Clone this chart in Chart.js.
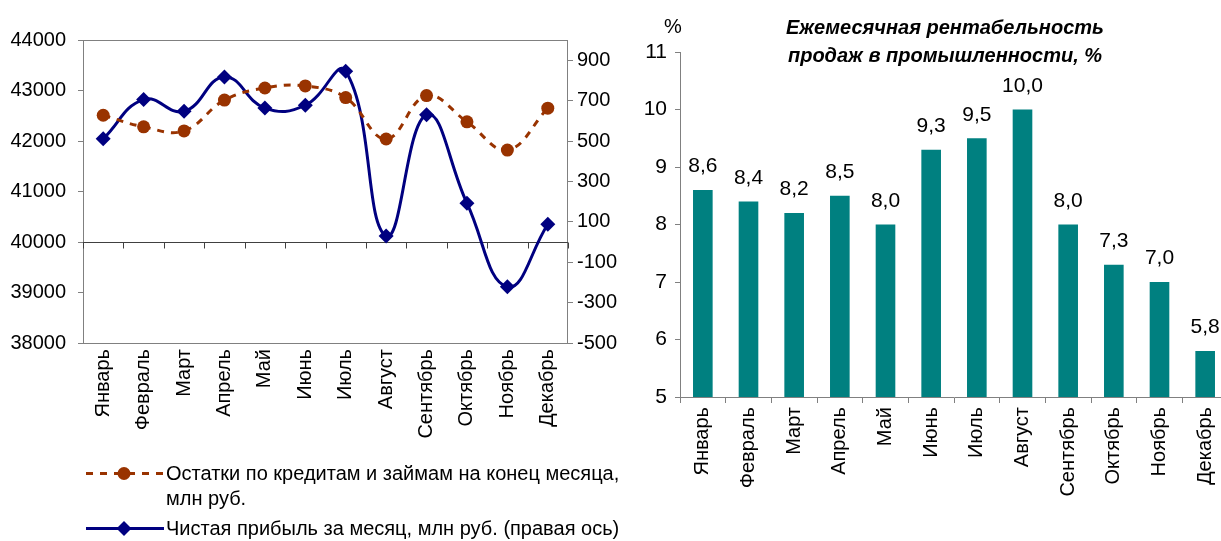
<!DOCTYPE html>
<html>
<head>
<meta charset="utf-8">
<script src="https://cdn.jsdelivr.net/npm/chart.js@4.4.0/dist/chart.umd.min.js"></script>
<style>
  body { margin: 0; width: 1221px; height: 541px; overflow: hidden; background: #fff; position: relative;
         font-family: "Liberation Sans", Arial, sans-serif; color: #000; }
  #leftChart { position: absolute; left: 0; top: 0; }
  #rightChart { position: absolute; left: 600px; top: 0; }
  .legend { position: absolute; left: 84px; font-size: 20px; line-height: 25px; }
  .legend svg { position: absolute; left: 0; top: 0; }
  .legend span { position: absolute; left: 82px; top: 0; white-space: nowrap; }
  #pct { position: absolute; left: 664px; top: 15px; font-size: 20px; }
  #title { position: absolute; left: 745px; width: 400px; top: 13px; text-align: center;
           font-size: 20px; font-weight: bold; font-style: italic; line-height: 28px; }
</style>
</head>
<body>
<canvas id="leftChart" width="640" height="448"></canvas>
<canvas id="rightChart" width="660" height="541"></canvas>

<div class="legend" style="top:461px">
  <svg width="82" height="25"><line x1="2" y1="12.5" x2="80" y2="12.5" stroke="#993300" stroke-width="3" stroke-dasharray="7 7"/><circle cx="40" cy="12.5" r="6.5" fill="#993300"/></svg>
  <span>Остатки по кредитам и займам на конец месяца,<br>млн руб.</span>
</div>
<div class="legend" style="top:516px">
  <svg width="82" height="25"><line x1="2" y1="12.5" x2="80" y2="12.5" stroke="#000080" stroke-width="3"/><path d="M40 5 L47.5 12.5 L40 20 L32.5 12.5 Z" fill="#000080"/></svg>
  <span>Чистая прибыль за месяц, млн руб. (правая ось)</span>
</div>

<div id="pct">%</div>
<div id="title">Ежемесячная рентабельность<br>продаж в промышленности, %</div>

<script>
// ---- данные ----
const months = ['Январь', 'Февраль', 'Март', 'Апрель', 'Май', 'Июнь',
                'Июль', 'Август', 'Сентябрь', 'Октябрь', 'Ноябрь', 'Декабрь'];
const loans = [42510, 42280, 42200, 42810, 43050, 43090, 42860, 42040, 42900, 42380, 41820, 42650];
const profit = [511, 705, 647, 817, 663, 677, 845, 30, 630, 192, -222, 88];
const loansTicks = [38000, 39000, 40000, 41000, 42000, 43000, 44000];
const profitTicks = [-500, -300, -100, 100, 300, 500, 700, 900];
const margin = [8.6, 8.4, 8.2, 8.5, 8.0, 9.3, 9.5, 10.0, 8.0, 7.3, 7.0, 5.8];
const marginTicks = [5, 6, 7, 8, 9, 10, 11];

const FONT = '"Liberation Sans", Arial, sans-serif';
const AXIS = '#808080';

// рамка области графика + линия нуля правой оси с засечками
const framePlugin = {
    id: 'frame',
    beforeDatasetsDraw(chart) {
        const { ctx, chartArea: a, scales } = chart;
        ctx.save();
        ctx.strokeStyle = AXIS;
        ctx.lineWidth = 1;
        ctx.strokeRect(a.left + 0.5, a.top + 0.5, a.right - a.left - 1, a.bottom - a.top);
        const y0 = Math.round(scales.y1.getPixelForValue(0)) + 0.5;
        ctx.strokeStyle = '#404040';
        ctx.beginPath();
        ctx.moveTo(a.left, y0);
        ctx.lineTo(a.right, y0);
        const step = scales.x.getPixelForValue(1) - scales.x.getPixelForValue(0);
        for (let i = 0; i <= months.length; i++) {
            const x = Math.round(scales.x.getPixelForValue(i) - step / 2) + 0.5;
            ctx.moveTo(x, y0);
            ctx.lineTo(x, y0 + 6);
        }
        ctx.stroke();
        ctx.restore();
    }
};

new Chart(document.getElementById('leftChart'), {
    type: 'line',
    data: {
        labels: months,
        datasets: [{
            label: 'Остатки по кредитам и займам на конец месяца, млн руб.',
            data: loans,
            yAxisID: 'y',
            borderColor: '#993300',
            backgroundColor: '#993300',
            borderWidth: 3,
            borderDash: [7, 7],
            tension: 0.4,
            pointStyle: 'circle',
            pointRadius: 6.5,
            pointBorderWidth: 0
        }, {
            label: 'Чистая прибыль за месяц, млн руб. (правая ось)',
            data: profit,
            yAxisID: 'y1',
            borderColor: '#000080',
            backgroundColor: '#000080',
            borderWidth: 3,
            tension: 0.45,
            pointStyle: 'rectRot',
            pointRadius: 7.5,
            pointBorderWidth: 0
        }]
    },
    options: {
        responsive: false,
        animation: false,
        layout: { padding: { top: 40, right: 0, left: 0, bottom: 0 } },
        plugins: { legend: { display: false }, tooltip: { enabled: false } },
        scales: {
            x: {
                offset: true,
                grid: { display: false, drawTicks: false },
                border: { display: false },
                ticks: { minRotation: 90, maxRotation: 90, padding: 6, color: '#000', font: { family: FONT, size: 20 } },
                afterFit(scale) { scale.height = 448 - 343; }
            },
            y: {
                position: 'left',
                min: 38000, max: 44000,
                afterBuildTicks(scale) { scale.ticks = loansTicks.map(v => ({ value: v })); },
                grid: { drawOnChartArea: false, tickLength: 5, color: AXIS },
                border: { display: false },
                ticks: { padding: 12, color: '#000', font: { family: FONT, size: 20 }, callback: v => String(v) },
                afterFit(scale) { scale.width = 83; }
            },
            y1: {
                position: 'right',
                min: -500, max: 1000,
                afterBuildTicks(scale) { scale.ticks = profitTicks.map(v => ({ value: v })); },
                grid: { drawOnChartArea: false, tickLength: 5, color: AXIS },
                border: { display: false },
                ticks: { padding: 4, color: '#000', font: { family: FONT, size: 20 }, callback: v => String(v) },
                afterFit(scale) { scale.width = 640 - 568; }
            }
        }
    },
    plugins: [framePlugin]
});

// подписи значений над столбцами
const valueLabels = {
    id: 'valueLabels',
    afterDatasetsDraw(chart) {
        const { ctx } = chart;
        const meta = chart.getDatasetMeta(0);
        ctx.save();
        ctx.font = '21px ' + FONT;
        ctx.fillStyle = '#000';
        ctx.textAlign = 'center';
        ctx.textBaseline = 'bottom';
        meta.data.forEach((bar, i) => {
            ctx.fillText(margin[i].toFixed(1).replace('.', ','), bar.x, bar.y - 13);
        });
        ctx.restore();
    }
};

new Chart(document.getElementById('rightChart'), {
    type: 'bar',
    data: {
        labels: months,
        datasets: [{
            data: margin,
            backgroundColor: '#008080',
            categoryPercentage: 1,
            barPercentage: 0.43
        }]
    },
    options: {
        responsive: false,
        animation: false,
        layout: { padding: { top: 52, right: 32, left: 0, bottom: 0 } },
        plugins: { legend: { display: false }, tooltip: { enabled: false } },
        scales: {
            x: {
                grid: { drawOnChartArea: false, tickLength: 6, color: AXIS, offset: true },
                border: { display: true, color: AXIS },
                ticks: { minRotation: 90, maxRotation: 90, padding: 4, color: '#000', font: { family: FONT, size: 20 } },
                afterFit(scale) { scale.height = 541 - 397; }
            },
            y: {
                min: 5, max: 11,
                afterBuildTicks(scale) { scale.ticks = marginTicks.map(v => ({ value: v })); },
                grid: { drawOnChartArea: false, tickLength: 5, color: AXIS },
                border: { display: true, color: AXIS },
                ticks: { padding: 8, color: '#000', font: { family: FONT, size: 21 } },
                afterFit(scale) { scale.width = 80; }
            }
        }
    },
    plugins: [valueLabels]
});
</script>
</body>
</html>
